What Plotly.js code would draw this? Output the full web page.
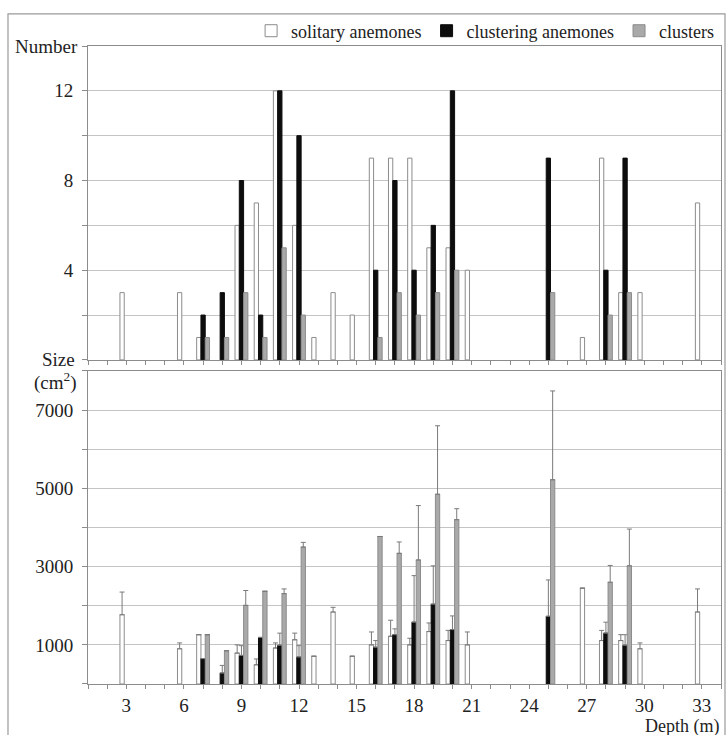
<!DOCTYPE html>
<html>
<head>
<meta charset="utf-8">
<script src="https://cdn.plot.ly/plotly-3.0.1.min.js"></script>
<style>html,body{margin:0;padding:0;background:#fff;}#chart{width:726px;height:735px;}</style>
</head>
<body>
<div id="chart"></div>
<script>
// Depths (m)
const depths = [3,6,7,8,9,10,11,12,13,14,15,16,17,18,19,20,21,25,27,28,29,30,33];

// Top panel: numbers
const solitaryN   = [3,3,1,null,6,7,12,6,1,3,2,9,9,9,5,5,4,null,1,9,3,3,7];
const clusteringN = [null,null,2,3,8,2,12,10,null,null,null,4,8,4,6,12,null,9,null,4,9,null,null];
const clustersN   = [null,null,1,1,3,1,5,2,null,null,null,1,3,2,3,4,null,3,null,2,3,null,null];

// Bottom panel: size (cm2) means and upper error
const solitaryS    = [1770,900,1260,null,790,490,920,1130,710,1840,710,1000,1220,1000,1340,1110,1000,null,2450,1110,1110,900,1840];
const solitaryE    = [580,150,0,null,210,150,130,170,0,120,0,330,410,170,220,260,330,null,0,260,150,150,590];
const clusteringS  = [null,null,650,280,730,1190,990,690,null,null,null,940,1260,1580,2040,1390,null,1730,null,1300,990,null,null];
const clusteringE  = [null,null,0,195,250,0,310,290,null,null,null,170,150,1190,980,350,null,930,null,280,270,null,null];
const clustersS    = [null,null,1260,850,2010,2370,2310,3500,null,null,null,3770,3340,3170,4850,4200,null,5220,null,2600,3020,null,null];
const clustersE    = [null,null,0,0,380,0,120,120,null,null,null,0,290,1390,1750,280,null,2270,null,430,940,null,null];

// Tick labels
const xTickVals = [3,6,9,12,15,18,21,24,27,30,33];
const topTickVals = [4,8,12];
const botTickVals = [1000,3000,5000,7000];

const names = ['solitary anemones','clustering anemones','clusters'];
const fills = ['#ffffff','#0d0d0d','#a9a9a9'];
const lines = ['#8c8c8c','#0d0d0d','#8c8c8c'];

const zeros = a => a.map(v => v === null ? null : 0);
const traces = [];
const topVals = [solitaryN, clusteringN, clustersN];
const botVals = [solitaryS, clusteringS, clustersS];
const botErr = [solitaryE, clusteringE, clustersE];

for (let i = 0; i < 3; i++) {
  traces.push({
    type: 'bar', x: depths, y: topVals[i], name: names[i],
    xaxis: 'x2', yaxis: 'y2', legendgroup: 'g' + i, showlegend: true,
    marker: {color: fills[i], line: {color: lines[i], width: 1}},
    hoverinfo: 'skip'
  });
}
for (let i = 0; i < 3; i++) {
  traces.push({
    type: 'bar', x: depths, y: botVals[i], name: names[i],
    xaxis: 'x', yaxis: 'y', legendgroup: 'g' + i, showlegend: false,
    marker: {color: fills[i], line: {color: lines[i], width: 1}},
    error_y: {type: 'data', symmetric: false, array: botErr[i], arrayminus: zeros(botErr[i]),
              color: '#7a7a7a', thickness: 1, width: 2.5},
    hoverinfo: 'skip'
  });
}

const FAM = 'Liberation Serif, DejaVu Serif, serif';
const font = {family: FAM, size: 19, color: '#222'};
const axisCommon = {
  showline: true, linecolor: '#8c8c8c', linewidth: 1, mirror: true,
  ticks: 'outside', tickcolor: '#8c8c8c', ticklen: 5, zeroline: false,
  tickfont: font
};

const layout = {
  width: 726, height: 735,
  margin: {l: 88, r: 5, t: 46, b: 51},
  paper_bgcolor: '#fff', plot_bgcolor: '#fff',
  font: font,
  barmode: 'group', bargap: 0.33, bargroupgap: 0,
  showlegend: true,
  legend: {orientation: 'h', x: 0.997, xanchor: 'right', y: 1.0235, yanchor: 'middle',
           font: {family: FAM, size: 18, color: '#222'}, itemwidth: 30, tracegroupgap: 0,
           bgcolor: 'rgba(0,0,0,0)', traceorder: 'normal'},
  xaxis: Object.assign({}, axisCommon, {
    domain: [0, 1], anchor: 'y', range: [1, 34], tickvals: xTickVals,
    showgrid: false, ticklabelstandoff: 0, ticklen: 4,
    minor: {dtick: 1, tick0: 0, ticks: 'outside', ticklen: 4, tickcolor: '#8c8c8c', showgrid: false}
  }),
  xaxis2: Object.assign({}, axisCommon, {
    domain: [0, 1], anchor: 'y2', range: [1, 34], matches: 'x', tickvals: xTickVals,
    showticklabels: false, showgrid: false, ticklen: 4,
    minor: {dtick: 1, tick0: 0, ticks: 'outside', ticklen: 4, tickcolor: '#8c8c8c', showgrid: false}
  }),
  yaxis: Object.assign({}, axisCommon, {
    domain: [0, 0.4906], anchor: 'x', range: [0, 8000],
    tickvals: botTickVals,
    showgrid: true, gridcolor: '#c4c4c4', gridwidth: 1, ticklabelstandoff: 5,
    minor: {dtick: 1000, tick0: 0, ticks: 'outside', ticklen: 5, tickcolor: '#8c8c8c',
            showgrid: true, gridcolor: '#c4c4c4', gridwidth: 1}
  }),
  yaxis2: Object.assign({}, axisCommon, {
    domain: [0.508, 1], anchor: 'x2', range: [0, 14],
    tickvals: topTickVals,
    showgrid: true, gridcolor: '#c4c4c4', gridwidth: 1, ticklabelstandoff: 5,
    minor: {dtick: 2, tick0: 0, ticks: 'outside', ticklen: 5, tickcolor: '#8c8c8c',
            showgrid: true, gridcolor: '#c4c4c4', gridwidth: 1}
  }),
  shapes: [
    {type: 'rect', xref: 'paper', yref: 'paper', x0: -0.1264, x1: 1.0063, y0: -0.09, y1: 1.0502,
     line: {color: '#9a9a9a', width: 1.2}, fillcolor: 'rgba(0,0,0,0)', layer: 'below'}
  ],
  annotations: [
    {text: 'Number', xref: 'paper', yref: 'y2', x: -0.0125, y: 14, xanchor: 'right', yanchor: 'middle',
     showarrow: false, font: font},
    {text: 'Size', xref: 'paper', yref: 'paper', x: -0.018, y: 0.508, xanchor: 'right', yanchor: 'middle',
     showarrow: false, font: font},
    {text: '(cm<sup>2</sup>)', xref: 'paper', yref: 'paper', x: -0.014, y: 0.474, xanchor: 'right', yanchor: 'middle',
     showarrow: false, font: font},
    {text: 'Depth (m)', xref: 'paper', yref: 'paper', x: 1.0, y: -0.0665, xanchor: 'right', yanchor: 'middle',
     showarrow: false, font: {family: FAM, size: 18, color: '#222'}}
  ]
};

Plotly.newPlot('chart', traces, layout, {staticPlot: true, displayModeBar: false});
</script>
</body>
</html>
